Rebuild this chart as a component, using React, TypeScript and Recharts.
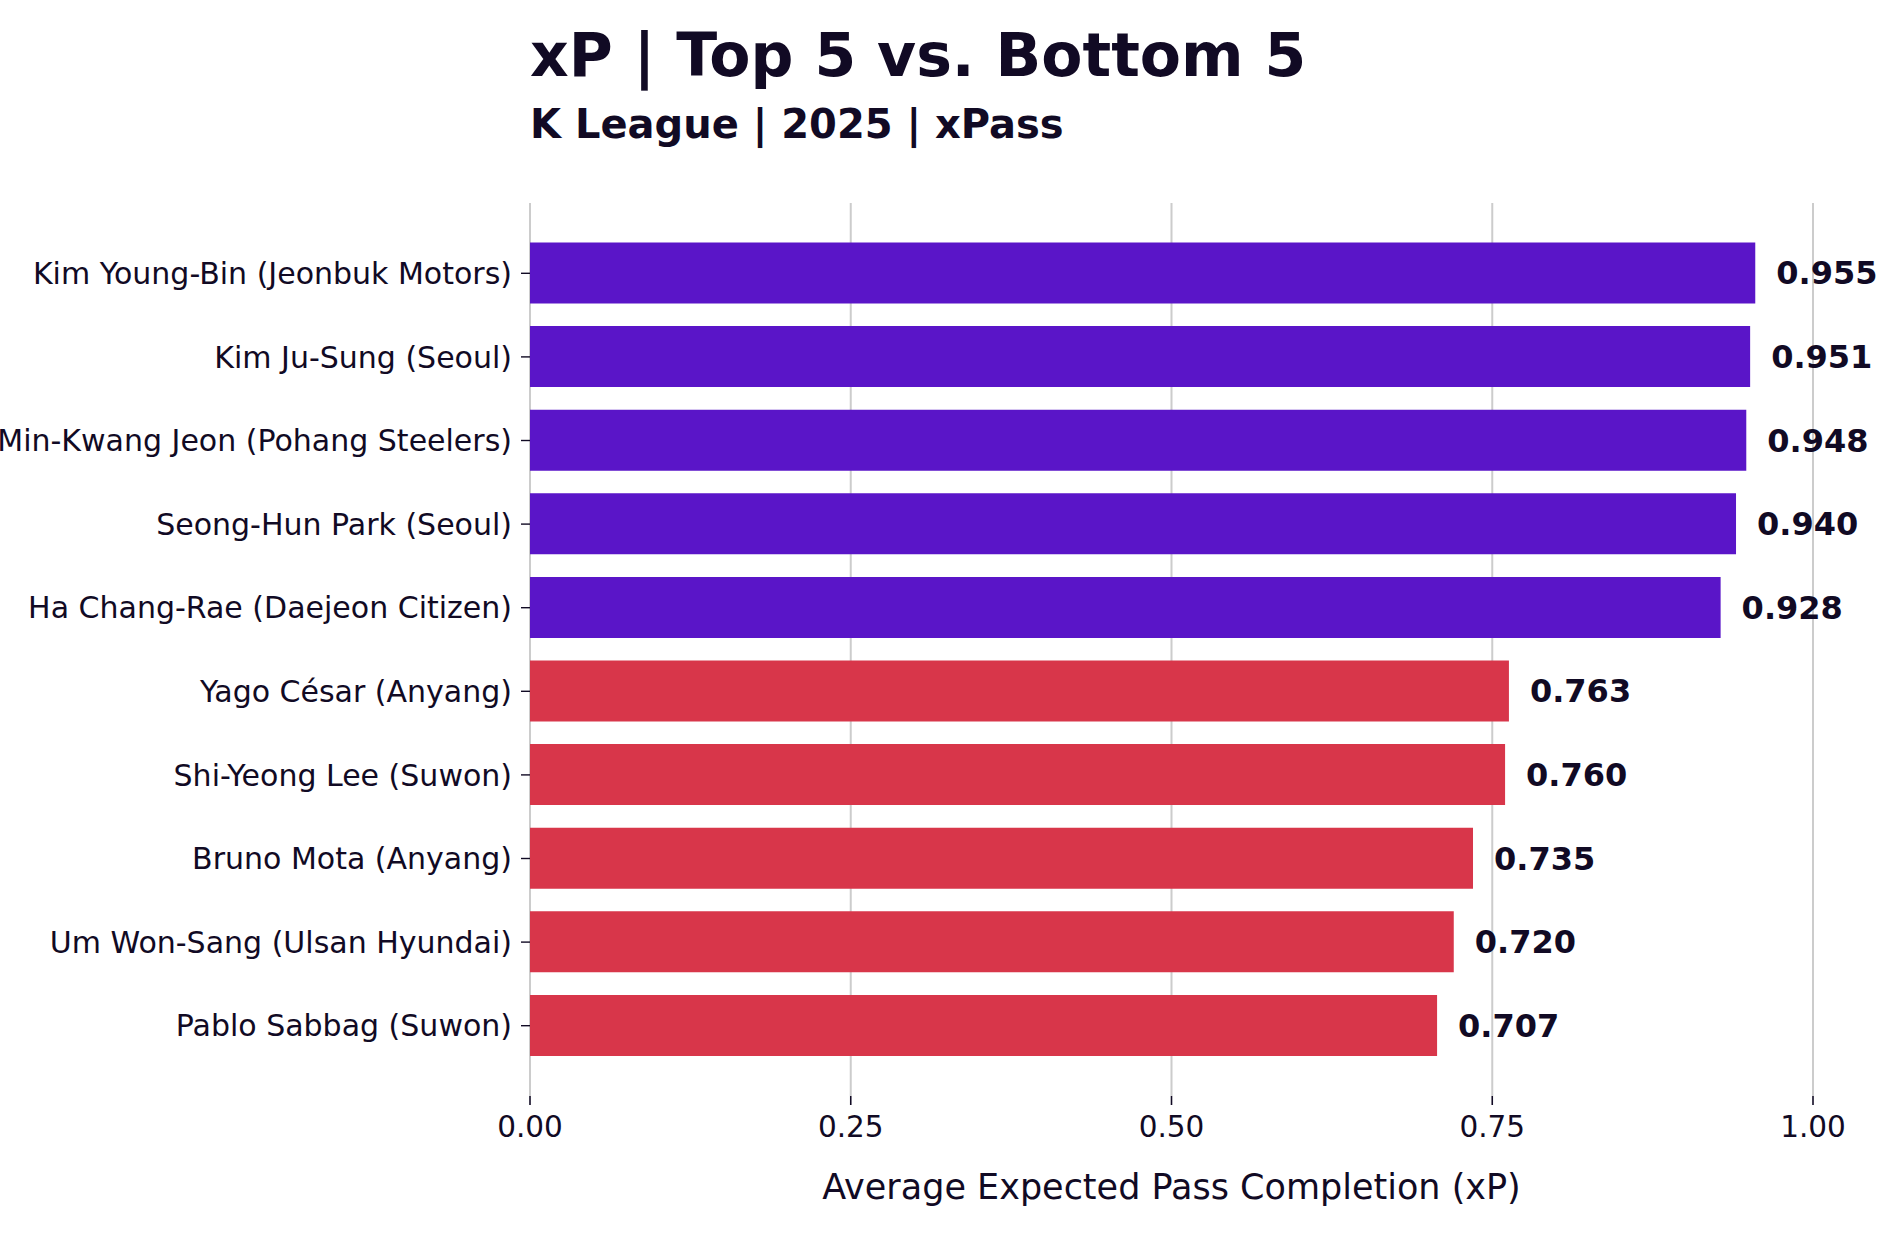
import { BarChart, Bar, XAxis, YAxis, CartesianGrid, Cell, LabelList } from 'recharts';

const players = [
  'Kim Young-Bin (Jeonbuk Motors)',
  'Kim Ju-Sung (Seoul)',
  'Min-Kwang Jeon (Pohang Steelers)',
  'Seong-Hun Park (Seoul)',
  'Ha Chang-Rae (Daejeon Citizen)',
  'Yago César (Anyang)',
  'Shi-Yeong Lee (Suwon)',
  'Bruno Mota (Anyang)',
  'Um Won-Sang (Ulsan Hyundai)',
  'Pablo Sabbag (Suwon)',
];

const xpValues = [0.955, 0.951, 0.948, 0.94, 0.928, 0.763, 0.76, 0.735, 0.72, 0.707];

// top 5 vs bottom 5
const groups = ['top', 'top', 'top', 'top', 'top', 'bottom', 'bottom', 'bottom', 'bottom', 'bottom'];

const xTicks = [0, 0.25, 0.5, 0.75, 1.0];

const TEXT = '#110a24';
const FONT = '"DejaVu Sans", Verdana, sans-serif';
const groupColors: Record<string, string> = { top: '#5a15c8', bottom: '#d8364a' };

const data = players.map((name, i) => ({ name, xp: xpValues[i], group: groups[i] }));

export default function App() {
  return (
    <div
      style={{
        position: 'absolute',
        left: 0,
        top: 0,
        width: 1890,
        height: 1260,
        background: '#fff',
        fontFamily: FONT,
        color: TEXT,
      }}
    >
      <div
        style={{
          position: 'absolute',
          left: 530,
          top: 25,
          fontSize: 60,
          lineHeight: '60px',
          fontWeight: 'bold',
          whiteSpace: 'nowrap',
        }}
      >
        xP | Top 5 vs. Bottom 5
      </div>
      <div
        style={{
          position: 'absolute',
          left: 530,
          top: 104,
          fontSize: 40,
          lineHeight: '40px',
          fontWeight: 'bold',
          whiteSpace: 'nowrap',
        }}
      >
        K League | 2025 | xPass
      </div>

      <BarChart
        width={1890}
        height={1260}
        data={data}
        layout="vertical"
        margin={{ top: 203, right: 77, bottom: 104, left: 0 }}
        style={{ position: 'absolute', left: 0, top: 0, fontFamily: FONT }}
      >
        <CartesianGrid horizontal={false} vertical stroke="#cccccc" strokeWidth={2} />
        <XAxis
          type="number"
          dataKey="xp"
          domain={[0, 1]}
          ticks={xTicks}
          tickFormatter={(v: number) => v.toFixed(2)}
          axisLine={false}
          tickLine={{ stroke: TEXT, strokeWidth: 1.6 }}
          tickSize={9}
          tickMargin={11}
          height={60}
          tick={{ fill: TEXT, fontSize: 29.5, fontFamily: FONT }}
          label={{
            value: 'Average Expected Pass Completion (xP)',
            position: 'bottom',
            offset: 18,
            fill: TEXT,
            fontSize: 35,
            fontFamily: FONT,
          }}
        />
        <YAxis
          type="category"
          dataKey="name"
          width={530}
          axisLine={false}
          tickLine={{ stroke: TEXT, strokeWidth: 1.4 }}
          tickSize={9}
          tickMargin={9}
          padding={{ top: 28.5, bottom: 28.5 }}
          interval={0}
          tick={{ fill: TEXT, fontSize: 30, fontFamily: FONT }}
        />
        <Bar dataKey="xp" barSize={61} isAnimationActive={false}>
          {data.map((d) => (
            <Cell key={d.name} fill={groupColors[d.group]} />
          ))}
          <LabelList
            dataKey="xp"
            position="right"
            offset={21}
            formatter={(v: number) => v.toFixed(3)}
            fill={TEXT}
            fontSize={32}
            fontWeight="bold"
            fontFamily={FONT}
          />
        </Bar>
      </BarChart>
    </div>
  );
}
